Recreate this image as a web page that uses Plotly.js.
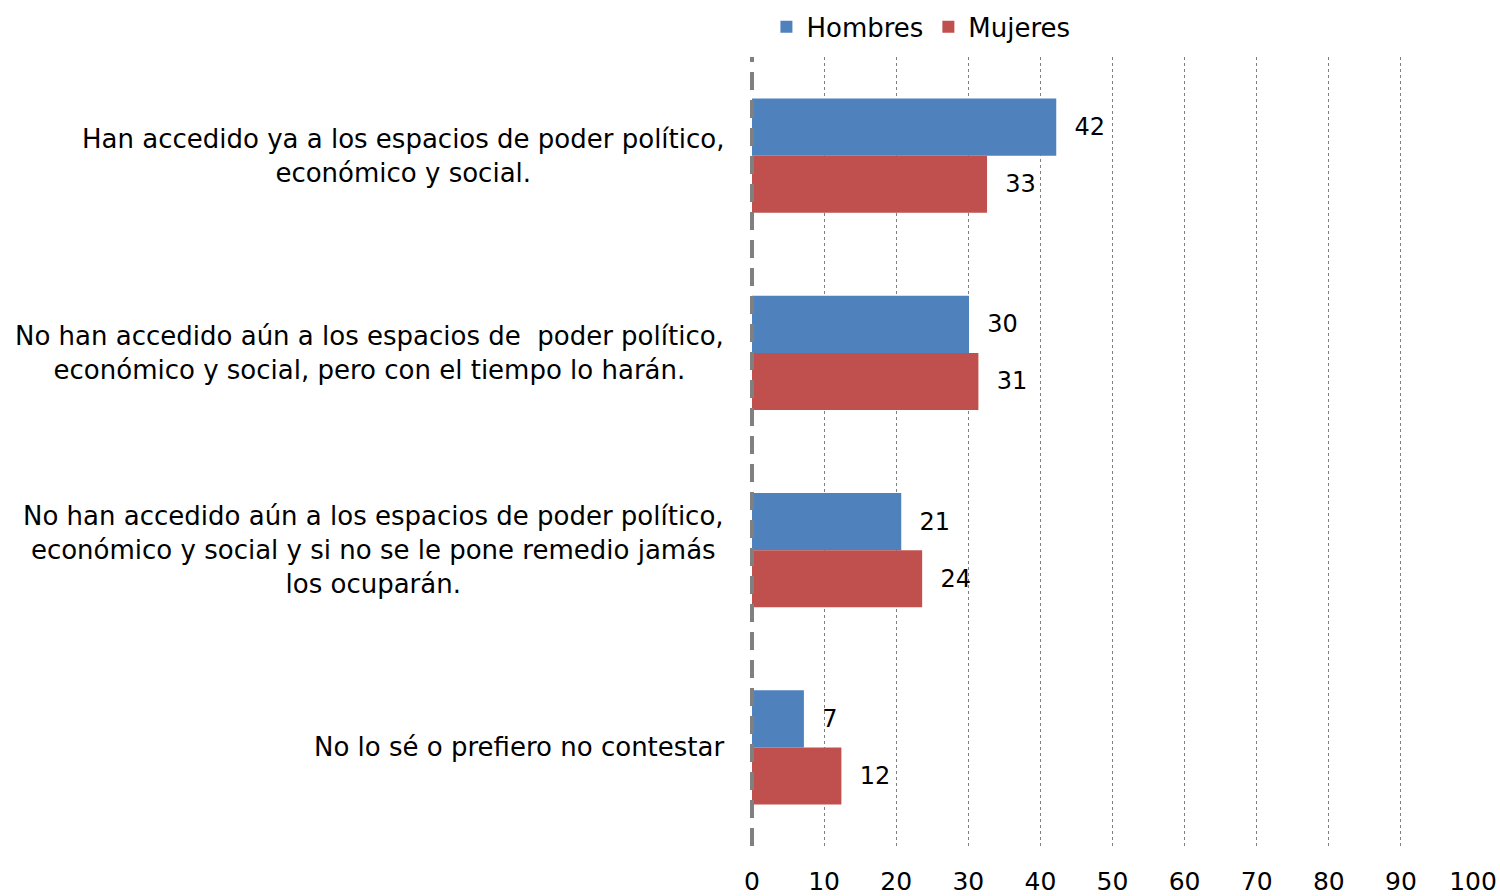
<!DOCTYPE html>
<html>
<head>
<meta charset="utf-8">
<script src="https://cdn.plot.ly/plotly-3.0.1.min.js"></script>
<style>html,body{margin:0;padding:0;background:#fff;}#chart{width:1500px;height:896px;}</style>
</head>
<body>
<div id="chart"></div>
<script>
const categories = [
  "Han accedido ya a los espacios de poder político,<br>económico y social.",
  "No han accedido aún a los espacios de  poder político,<br>económico y social, pero con el tiempo lo harán.",
  "No han accedido aún a los espacios de poder político,<br>económico y social y si no se le pone remedio jamás<br>los ocuparán.",
  "No lo sé o prefiero no contestar"
];
const hombres = [42.2, 30.1, 20.7, 7.2];
const mujeres = [32.6, 31.4, 23.6, 12.4];
const xTicks = [0, 10, 20, 30, 40, 50, 60, 70, 80, 90, 100];

const FONT = "'DejaVu Sans', sans-serif";
const FS = 25;
const catIdx = categories.map((c, i) => i);

const traces = [
  {type: 'bar', orientation: 'h', name: 'Hombres', y: catIdx, x: hombres,
   marker: {color: '#4F81BD'}, text: hombres.map(v => Math.round(v)),
   texttemplate: '  %{text}', textposition: 'outside', cliponaxis: false,
   textfont: {family: FONT, size: 24, color: '#000'}},
  {type: 'bar', orientation: 'h', name: 'Mujeres', y: catIdx, x: mujeres,
   marker: {color: '#C0504D'}, text: mujeres.map(v => Math.round(v)),
   texttemplate: '  %{text}', textposition: 'outside', cliponaxis: false,
   textfont: {family: FONT, size: 24, color: '#000'}}
];

const annotations = categories.map((c, i) => ({
  xref: 'paper', yref: 'y', x: 0, y: i, xanchor: 'right', yanchor: 'middle',
  xshift: -26, text: c, showarrow: false, align: 'center',
  font: {family: FONT, size: 26, color: '#000'}
}));

const layout = {
  width: 1500, height: 896,
  margin: {l: 752, r: 27, t: 57, b: 50, autoexpand: false},
  paper_bgcolor: '#fff', plot_bgcolor: '#fff',
  font: {family: FONT, size: FS, color: '#000'},
  barmode: 'group', bargap: 0.42, bargroupgap: 0,
  showlegend: true,
  legend: {orientation: 'h', x: 0.02, xanchor: 'left', y: 1.068, yanchor: 'top',
           font: {family: FONT, size: 26, color: '#000'}, itemwidth: 30,
           traceorder: 'normal', itemclick: false},
  xaxis: {range: [0, 100], tickvals: xTicks, ticktext: xTicks.map(String),
          showgrid: true, gridcolor: '#7f7f7f', griddash: 'dot', gridwidth: 1,
          zeroline: false, showline: false, ticks: '', ticklabelstandoff: 18,
          tickfont: {family: FONT, size: FS, color: '#000'}, fixedrange: true},
  yaxis: {range: [3.5, -0.5], showticklabels: false, showgrid: false,
          zeroline: false, showline: false, ticks: '', fixedrange: true},
  annotations: annotations,
  shapes: [{type: 'line', xref: 'paper', yref: 'paper', x0: 0, x1: 0, y0: 0, y1: 1,
            line: {color: '#808080', width: 4, dash: '18px,10px'}, layer: 'above'}]
};

Plotly.newPlot('chart', traces, layout, {displayModeBar: false, staticPlot: true});
</script>
</body>
</html>
